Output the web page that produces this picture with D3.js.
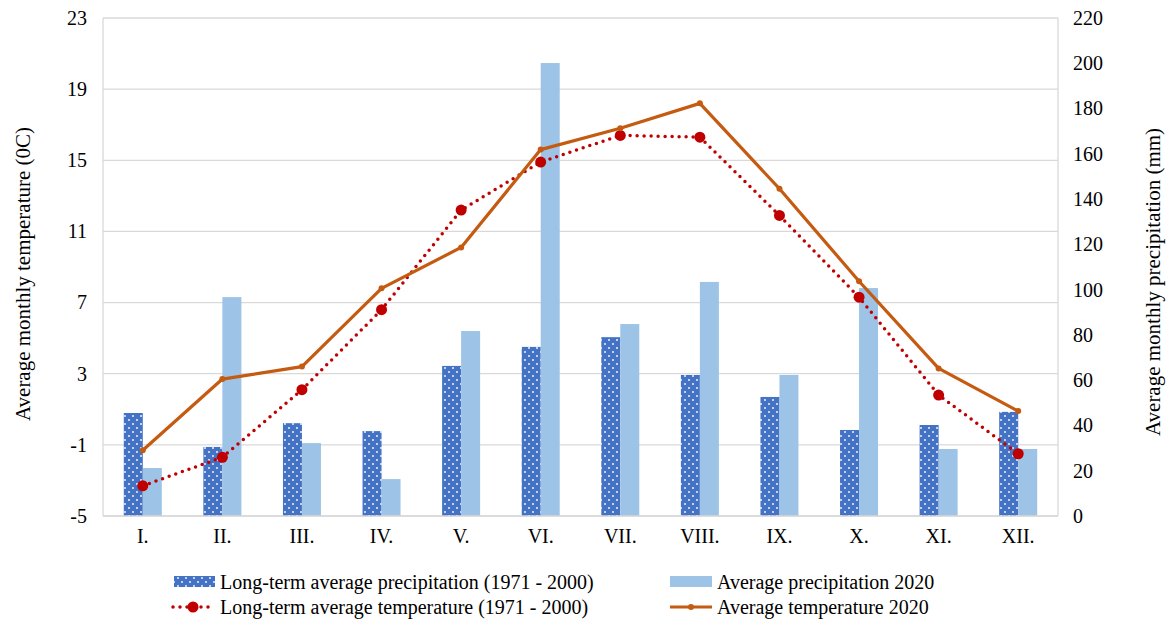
<!DOCTYPE html>
<html>
<head>
<meta charset="utf-8">
<script src="https://cdn.jsdelivr.net/npm/d3@7"></script>
<style>
  body { margin: 0; background: #fff; }
  svg text { font-family: "Liberation Serif", "Times New Roman", serif; fill: #000; }
</style>
</head>
<body>
<svg id="chart" width="1173" height="624"></svg>
<script>
const months = ["I.", "II.", "III.", "IV.", "V.", "VI.", "VII.", "VIII.", "IX.", "X.", "XI.", "XII."];
const precipLongTerm = [45.5, 30.5, 41, 37.5, 66.3, 74.7, 79, 62.3, 52.6, 38, 40.2, 46];
const precip2020 = [21.2, 96.7, 32.2, 16.3, 81.7, 200.1, 84.8, 103.4, 62.3, 100.7, 29.6, 29.6];
const tempLongTerm = [-3.3, -1.7, 2.1, 6.6, 12.2, 14.9, 16.4, 16.3, 11.9, 7.3, 1.8, -1.5];
const temp2020 = [-1.3, 2.7, 3.4, 7.8, 10.1, 15.6, 16.8, 18.2, 13.4, 8.2, 3.3, 0.9];
const tempTicks = [-5, -1, 3, 7, 11, 15, 19, 23];
const precipTicks = [0, 20, 40, 60, 80, 100, 120, 140, 160, 180, 200, 220];

const W = 1173, H = 624;
const MARGIN = { top: 18, right: 115, bottom: 108, left: 103 };
const FONT_SIZE = 20;
const TITLE_SIZE = 21;
const DARK_BLUE = "#4472C4";
const LIGHT_BLUE = "#9DC3E6";
const ORANGE = "#C55A11";
const RED = "#C00000";
const GRID = "#D9D9D9";

const svg = d3.select("#chart");
const width = W - MARGIN.left - MARGIN.right;
const height = H - MARGIN.top - MARGIN.bottom;

// dotted fill for long-term bars
const defs = svg.append("defs");
const pat = defs.append("pattern")
  .attr("id", "dots")
  .attr("patternUnits", "userSpaceOnUse")
  .attr("width", 8).attr("height", 8);
pat.append("rect").attr("width", 8).attr("height", 8).attr("fill", DARK_BLUE);
pat.append("circle").attr("cx", 2).attr("cy", 2).attr("r", 0.9).attr("fill", "#fff");
pat.append("circle").attr("cx", 6).attr("cy", 6).attr("r", 0.9).attr("fill", "#fff");

const g = svg.append("g").attr("transform", `translate(${MARGIN.left},${MARGIN.top})`);

const x = d3.scaleBand().domain(months).range([0, width]);
const yT = d3.scaleLinear().domain([-5, 23]).range([height, 0]);
const yP = d3.scaleLinear().domain([0, 220]).range([height, 0]);
const barW = 19;

// Grid
g.append("g")
  .selectAll("line")
  .data(tempTicks)
  .join("line")
  .attr("x1", 0).attr("x2", width)
  .attr("y1", d => yT(d)).attr("y2", d => yT(d))
  .attr("stroke", GRID).attr("stroke-width", 1.3);
g.append("line").attr("x1", 0).attr("x2", 0).attr("y1", 0).attr("y2", height)
  .attr("stroke", GRID).attr("stroke-width", 1.3);
g.append("line").attr("x1", width).attr("x2", width).attr("y1", 0).attr("y2", height)
  .attr("stroke", GRID).attr("stroke-width", 1.3);

// Axes (plain hyphen for negatives, as in the original)
const axL = g.append("g")
  .call(d3.axisLeft(yT).tickValues(tempTicks).tickFormat(d => String(d)).tickSize(0).tickPadding(16));
const axR = g.append("g").attr("transform", `translate(${width},0)`)
  .call(d3.axisRight(yP).tickValues(precipTicks).tickFormat(d => String(d)).tickSize(0).tickPadding(15));
const axB = g.append("g").attr("transform", `translate(0,${height})`)
  .call(d3.axisBottom(x).tickSize(0).tickPadding(13));
[axL, axR, axB].forEach(a => {
  a.attr("font-family", null).attr("font-size", null);
  a.select(".domain").remove();
  a.selectAll("text").attr("font-size", FONT_SIZE).attr("fill", "#000");
});

// Bars
g.append("g").selectAll("rect")
  .data(precipLongTerm)
  .join("rect")
  .attr("x", (d, i) => x(months[i]) + x.bandwidth() / 2 - barW)
  .attr("width", barW)
  .attr("y", d => yP(d))
  .attr("height", d => height - yP(d))
  .attr("fill", "url(#dots)");
g.append("g").selectAll("rect")
  .data(precip2020)
  .join("rect")
  .attr("x", (d, i) => x(months[i]) + x.bandwidth() / 2)
  .attr("width", barW)
  .attr("y", d => yP(d))
  .attr("height", d => height - yP(d))
  .attr("fill", LIGHT_BLUE);

// bottom axis line over bars
g.append("line").attr("x1", 0).attr("x2", width).attr("y1", height).attr("y2", height)
  .attr("stroke", GRID).attr("stroke-width", 1.5);

// Lines
const cx = (d, i) => x(months[i]) + x.bandwidth() / 2;
const line = d3.line().x(cx).y(d => yT(d));
g.append("path").datum(tempLongTerm)
  .attr("d", line).attr("fill", "none")
  .attr("stroke", RED).attr("stroke-width", 3.5)
  .attr("stroke-linecap", "round").attr("stroke-dasharray", "0 7");
g.append("g").selectAll("circle").data(tempLongTerm).join("circle")
  .attr("cx", cx).attr("cy", d => yT(d)).attr("r", 5.5).attr("fill", RED);
g.append("path").datum(temp2020)
  .attr("d", line).attr("fill", "none")
  .attr("stroke", ORANGE).attr("stroke-width", 3.2).attr("stroke-linejoin", "round");
g.append("g").selectAll("circle").data(temp2020).join("circle")
  .attr("cx", cx).attr("cy", d => yT(d)).attr("r", 3).attr("fill", ORANGE);

// Axis titles
svg.append("text")
  .attr("transform", `translate(30,274) rotate(-90)`)
  .attr("text-anchor", "middle").attr("font-size", TITLE_SIZE)
  .text("Average monthly temperature (0C)");
svg.append("text")
  .attr("transform", `translate(1160,282) rotate(-90)`)
  .attr("text-anchor", "middle").attr("font-size", TITLE_SIZE)
  .text("Average monthly precipitation (mm)");

// Legend
const leg = svg.append("g");
leg.append("rect").attr("x", 174).attr("y", 576).attr("width", 41).attr("height", 11).attr("fill", "url(#dots)");
leg.append("text").attr("x", 220).attr("y", 589).attr("font-size", FONT_SIZE).text("Long-term average precipitation (1971 - 2000)");
leg.append("rect").attr("x", 670).attr("y", 576).attr("width", 42).attr("height", 11).attr("fill", LIGHT_BLUE);
leg.append("text").attr("x", 717).attr("y", 589).attr("font-size", FONT_SIZE).text("Average precipitation 2020");
leg.append("line").attr("x1", 173).attr("x2", 214).attr("y1", 607).attr("y2", 607)
  .attr("stroke", RED).attr("stroke-width", 3.5).attr("stroke-linecap", "round").attr("stroke-dasharray", "0 7");
leg.append("circle").attr("cx", 193).attr("cy", 607).attr("r", 5.5).attr("fill", RED);
leg.append("text").attr("x", 220).attr("y", 614).attr("font-size", FONT_SIZE).text("Long-term average temperature (1971 - 2000)");
leg.append("line").attr("x1", 670).attr("x2", 712).attr("y1", 607).attr("y2", 607)
  .attr("stroke", ORANGE).attr("stroke-width", 3.2);
leg.append("circle").attr("cx", 691).attr("cy", 607).attr("r", 3).attr("fill", ORANGE);
leg.append("text").attr("x", 717).attr("y", 614).attr("font-size", FONT_SIZE).text("Average temperature 2020");
</script>
</body>
</html>
